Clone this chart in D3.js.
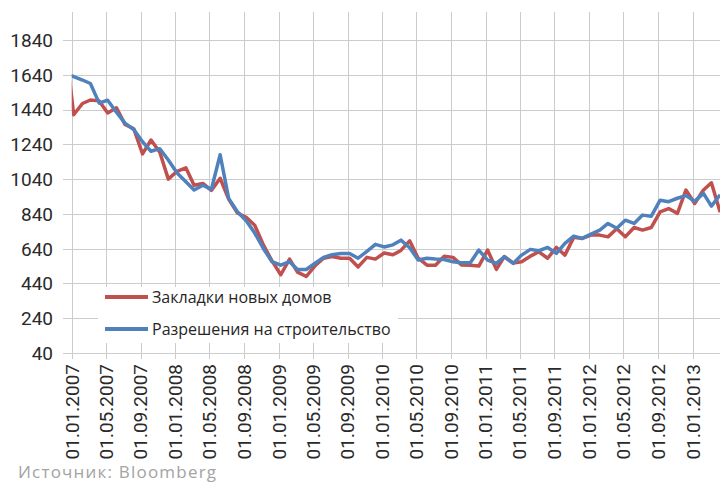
<!DOCTYPE html>
<html>
<head>
<meta charset="utf-8">
<script src="https://cdn.jsdelivr.net/npm/d3@7"></script>
<style>
body { margin: 0; background: #fff; }
.grid line { stroke: #cccccc; stroke-width: 1; shape-rendering: crispEdges; }
.ylab, .xlab { font-family: Roboto, sans-serif; font-size: 19px; fill: #2a2a2a; }
.leg { font-family: "Open Sans", sans-serif; font-size: 16px; fill: #262626; }
.src { font-family: "Open Sans", sans-serif; font-size: 17px; letter-spacing: 1.2px; fill: #a3a3a3; }
.line { fill: none; stroke-width: 3.5; stroke-linejoin: round; }
</style>
</head>
<body>
<div id="graph"></div>
<script>
// monthly values, first one is Dec 2006 (partly hidden behind the axis)
var startsVals = [1850,
  1410, 1475, 1495, 1490, 1420, 1450, 1355, 1330, 1185, 1265, 1195, 1040,
  1085, 1105, 1005, 1015, 975, 1045, 925, 845, 820, 775, 660, 570,
  490, 580, 505, 480, 540, 585, 595, 585, 585, 535, 590, 580,
  615, 605, 630, 685, 585, 545, 545, 597, 590, 546, 545, 540,
  632, 521, 595, 558, 565, 597, 622, 585, 647, 603, 705, 699,
  718, 718, 708, 755, 708, 762, 747, 762, 852, 871, 843, 977,
  900, 977, 1019, 850];

var permitsVals = [1645,
  1630, 1610, 1590, 1477, 1494, 1425, 1362, 1325, 1255, 1200, 1215, 1150,
  1075, 1025, 977, 1005, 981, 1180, 929, 852, 800, 730, 640, 565,
  545, 565, 520, 520, 555, 590, 605, 612, 612, 585, 625, 665,
  650, 662, 689, 645, 575, 585, 580, 578, 565, 559, 559, 632,
  574, 555, 593, 555, 603, 636, 628, 647, 613, 670, 712, 699,
  724, 747, 785, 757, 804, 785, 833, 827, 919, 910, 930, 945,
  913, 958, 885, 950];

var yTicks = [40, 240, 440, 640, 840, 1040, 1240, 1440, 1640, 1840];
var seriesNames = ["Закладки новых домов", "Разрешения на строительство"];
var seriesColors = ["#c0504d", "#4f81bd"];

var svg = d3.select('#graph').append("svg")
  .attr('width', 720)
  .attr('height', 483);

var x = d3.scaleTime()
  .domain([new Date(2007, 0, 1), new Date(2013, 0, 1)])
  .range([71.7, 692.7]);
var y = d3.scaleLinear().domain([40, 2000]).range([353, 12.2]);

var tickDates = d3.timeMonth.every(4).range(new Date(2007, 0, 1), new Date(2013, 0, 2));
var fmt = d3.timeFormat("%d.%m.%Y");

// grid
var grid = svg.append("g").attr("class", "grid");
grid.selectAll(".hg").data(yTicks).enter().append("line")
  .attr("x1", 63).attr("x2", 720)
  .attr("y1", function(d) { return Math.round(y(d)) + 0.5; })
  .attr("y2", function(d) { return Math.round(y(d)) + 0.5; });
grid.selectAll(".vg").data(tickDates).enter().append("line")
  .attr("x1", function(d) { return Math.round(x(d)) + 0.5; })
  .attr("x2", function(d) { return Math.round(x(d)) + 0.5; })
  .attr("y1", y(2000)).attr("y2", 359);

// y labels
svg.selectAll(".ylab").data(yTicks).enter().append("text")
  .attr("class", "ylab")
  .attr("x", 53)
  .attr("y", function(d) { return y(d); })
  .attr("dy", "0.36em")
  .attr("text-anchor", "end")
  .text(function(d) { return d; });

// x labels
svg.selectAll(".xlab").data(tickDates).enter().append("text")
  .attr("class", "xlab")
  .attr("transform", function(d) { return "translate(" + x(d) + ",364) rotate(-90)"; })
  .attr("dy", "0.36em")
  .attr("text-anchor", "end")
  .text(function(d) { return fmt(d); });

// lines
svg.append("clipPath").attr("id", "plot")
  .append("rect").attr("x", x.range()[0]).attr("y", 0).attr("width", 700).attr("height", 353);

function toPoints(vals) {
  return vals.map(function(v, i) { return {date: new Date(2006, 11 + i, 8), value: v}; });
}
var line = d3.line()
  .x(function(d) { return x(d.date); })
  .y(function(d) { return y(d.value); });

[startsVals, permitsVals].forEach(function(vals, k) {
  svg.append("path")
    .datum(toPoints(vals))
    .attr("class", "line")
    .attr("clip-path", "url(#plot)")
    .attr("stroke", seriesColors[k])
    .attr("d", line);
});

// legend
svg.append("rect").attr("x", 98).attr("y", 287).attr("width", 300).attr("height", 56).attr("fill", "#fff");
seriesNames.forEach(function(name, k) {
  var ly = 297 + k * 32;
  svg.append("line")
    .attr("x1", 105).attr("x2", 148).attr("y1", ly).attr("y2", ly)
    .attr("stroke", seriesColors[k]).attr("stroke-width", 4);
  svg.append("text").attr("class", "leg")
    .attr("x", 152).attr("y", ly).attr("dy", "0.36em")
    .text(name);
});

// source
svg.append("text").attr("class", "src")
  .attr("x", 18).attr("y", 478)
  .text("Источник: Bloomberg");
</script>
</body>
</html>
